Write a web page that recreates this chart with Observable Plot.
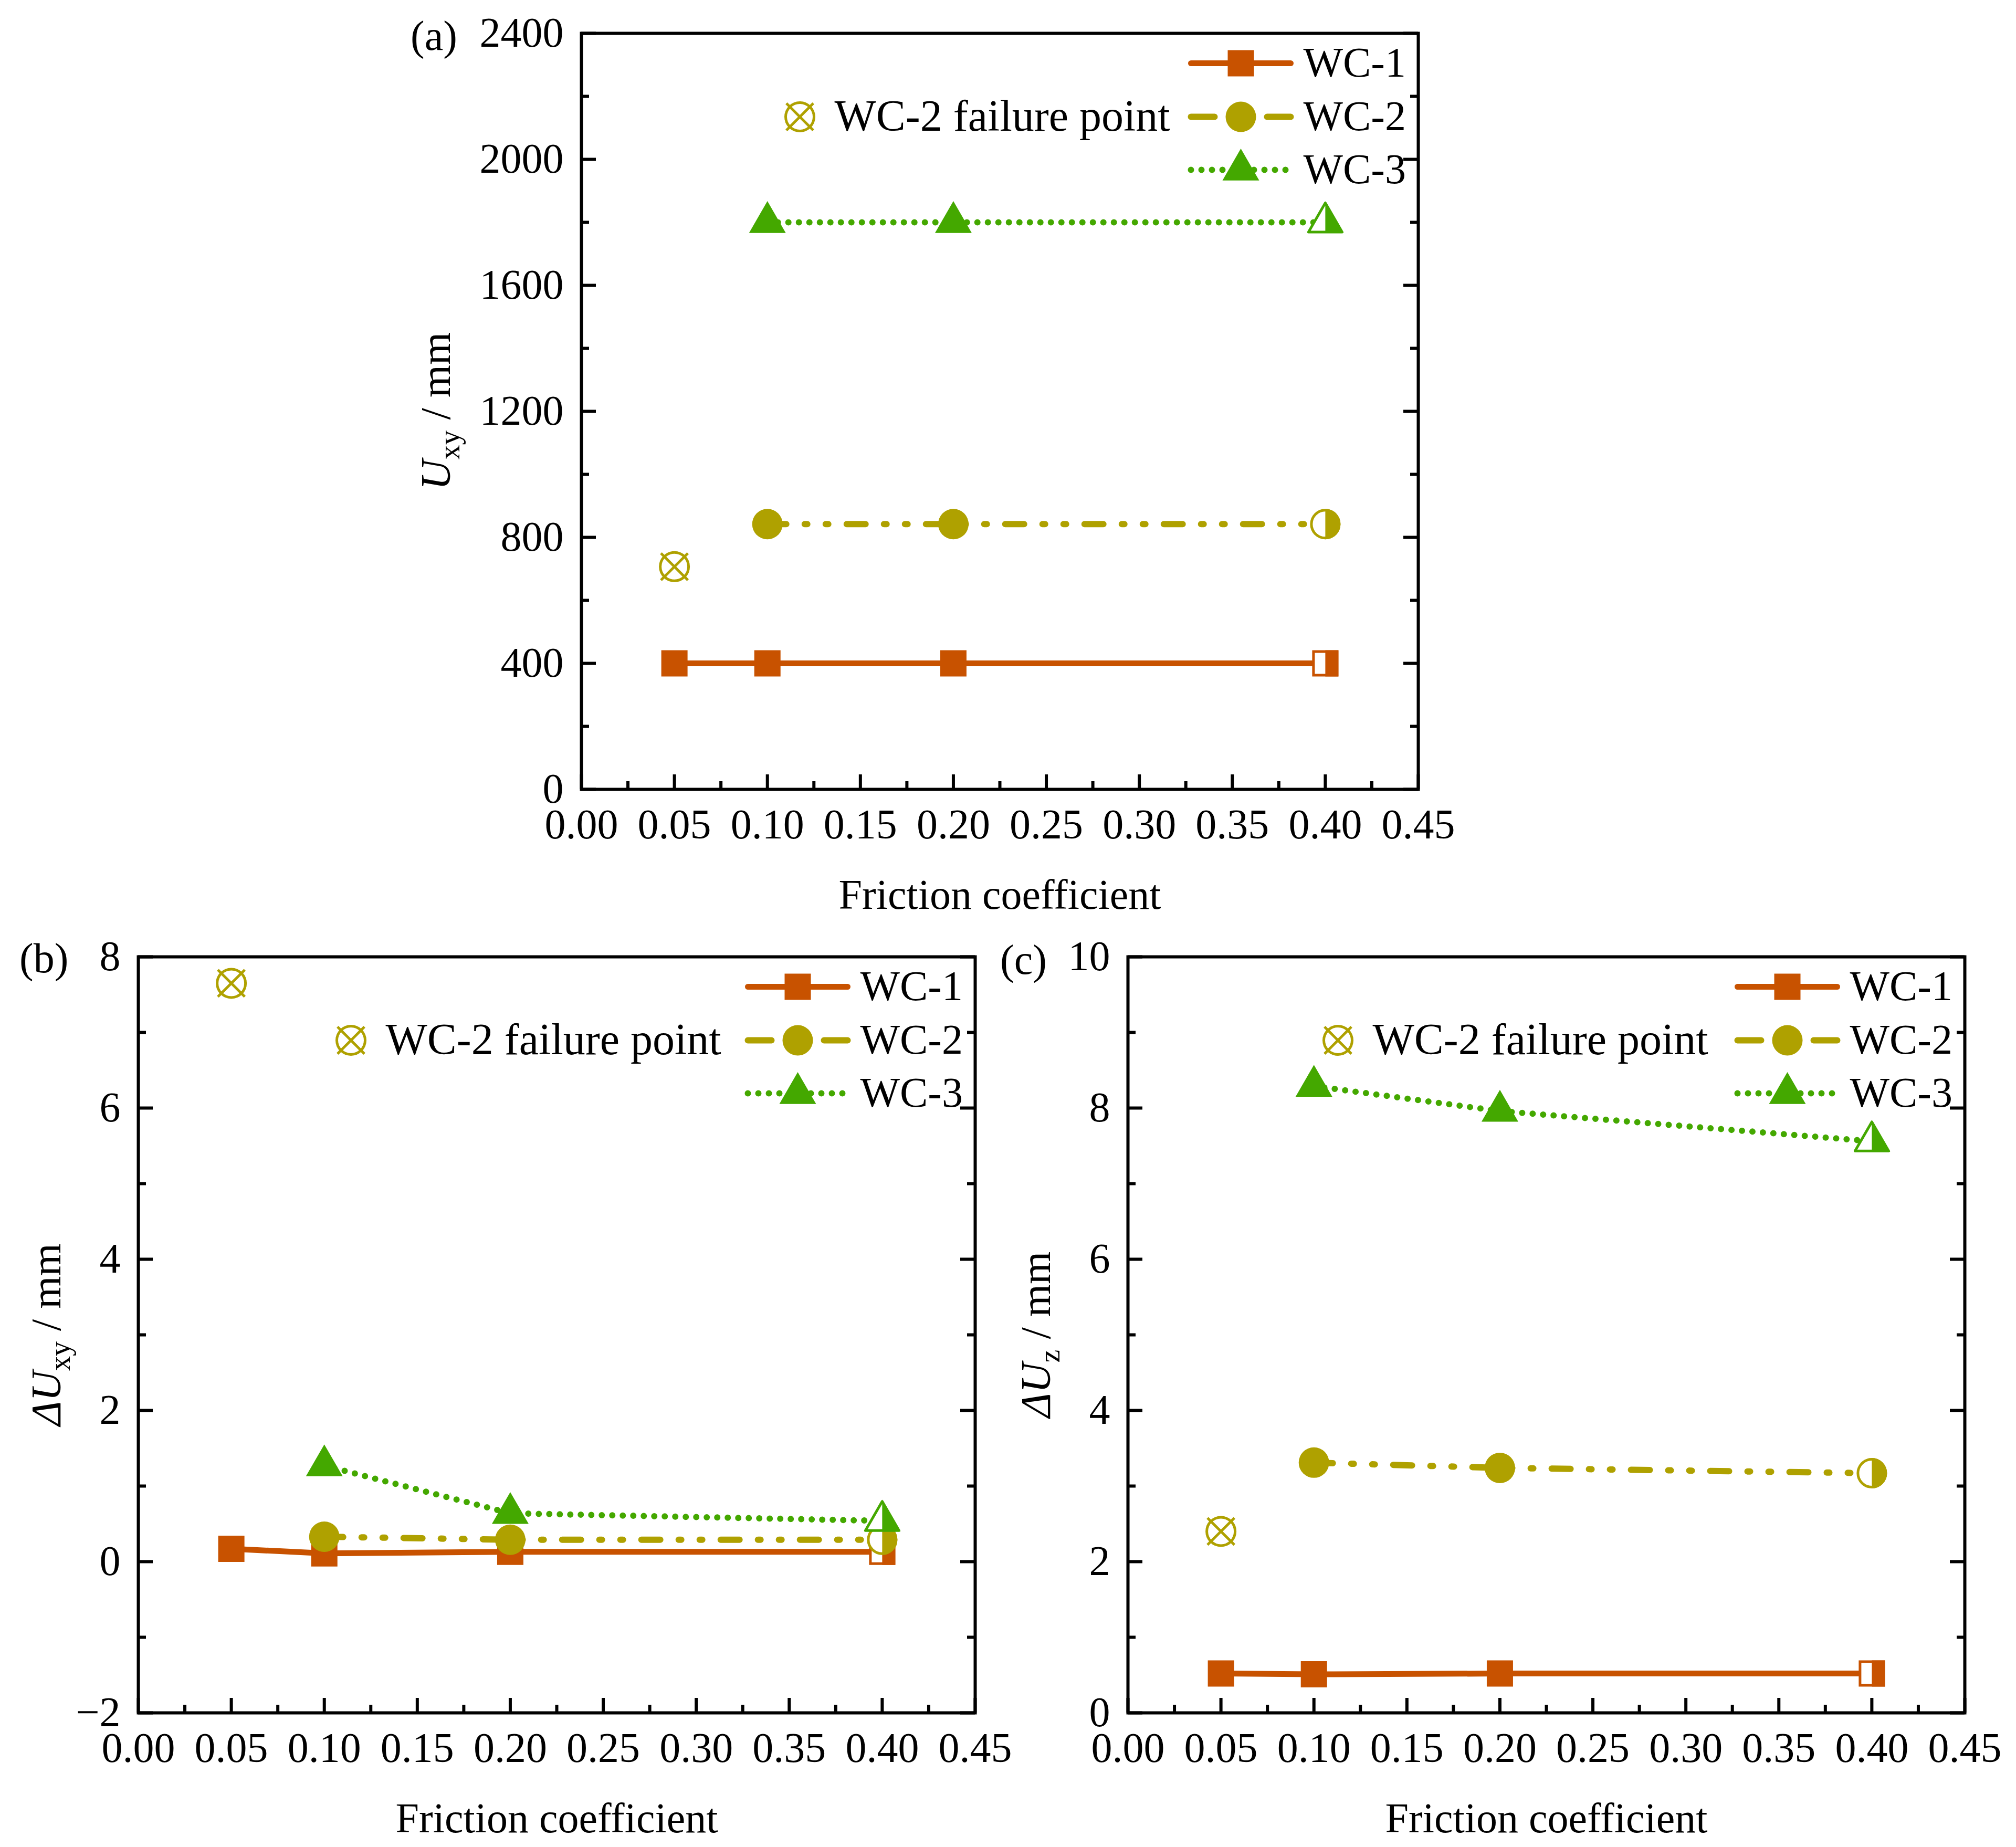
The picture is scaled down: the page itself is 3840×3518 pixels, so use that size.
<!DOCTYPE html>
<html><head><meta charset="utf-8">
<script src="https://cdn.jsdelivr.net/npm/d3@7"></script>
<script src="https://cdn.jsdelivr.net/npm/@observablehq/plot@0.6"></script>
<style>
html,body{margin:0;padding:0;background:#fff;}
#page{position:relative;width:3840px;height:3518px;background:#fff;overflow:hidden;}
#page svg{position:absolute;}
</style></head><body><div id="page"></div>
<script>
// ---------- data ----------
const friction = [0.05, 0.10, 0.20, 0.40];       // WC-1 friction coefficients
const frictionWC23 = [0.10, 0.20, 0.40];         // WC-2 and WC-3
const failureFriction = [0.05];                  // WC-2 failure point
const seriesNames = ["WC-1", "WC-2", "WC-3"];
const failureLabel = "WC-2 failure point";
const xTickValues = [0, 0.05, 0.10, 0.15, 0.20, 0.25, 0.30, 0.35, 0.40, 0.45];
const xMinorValues = [0.025, 0.075, 0.125, 0.175, 0.225, 0.275, 0.325, 0.375, 0.425];
const xTitle = "Friction coefficient";

// (a) Uxy / mm
const uxyWC1 = [400, 400, 400, 400];
const uxyWC2 = [842, 842, 842];
const uxyWC3 = [1800, 1800, 1800];
const uxyFailure = [707];
const uxyTicks = [0, 400, 800, 1200, 1600, 2000, 2400];
const uxyMinor = [200, 600, 1000, 1400, 1800, 2200];

// (b) ΔUxy / mm
const dUxyWC1 = [0.17, 0.11, 0.13, 0.13];
const dUxyWC2 = [0.33, 0.29, 0.29];
const dUxyWC3 = [1.27, 0.64, 0.54];
const dUxyFailure = [7.65];
const dUxyTicks = [-2, 0, 2, 4, 6, 8];
const dUxyMinor = [-1, 1, 3, 5, 7];

// (c) ΔUz / mm
const dUzWC1 = [0.52, 0.51, 0.52, 0.52];
const dUzWC2 = [3.31, 3.24, 3.17];
const dUzWC3 = [8.29, 7.96, 7.56];
const dUzFailure = [2.40];
const dUzTicks = [0, 2, 4, 6, 8, 10];
const dUzMinor = [1, 3, 5, 7, 9];

// ---------- style ----------
const C1 = "#C85200", C2 = "#AFA100", C3 = "#44A800";
const FONT = "'Liberation Serif', 'Times New Roman', serif";
const FS = 80;

// custom symbols (size = r²π)
const rOf = s => Math.sqrt(s / Math.PI);
const sqSym = {draw(c, s) { const r = rOf(s); c.rect(-r, -r, 2 * r, 2 * r); }};
const sqRightSym = {draw(c, s) { const r = rOf(s); c.rect(0, -r, r, 2 * r); }};
const circSym = {draw(c, s) { const r = rOf(s); c.moveTo(r, 0); c.arc(0, 0, r, 0, 2 * Math.PI); c.closePath(); }};
const circRightSym = {draw(c, s) { const r = rOf(s); c.moveTo(0, -r); c.arc(0, 0, r, -Math.PI / 2, Math.PI / 2); c.closePath(); }};
const triSym = {draw(c, s) { const r = rOf(s), h = r * Math.sqrt(3); c.moveTo(0, -2 * h / 3); c.lineTo(r, h / 3); c.lineTo(-r, h / 3); c.closePath(); }};
const triRightSym = {draw(c, s) { const r = rOf(s), h = r * Math.sqrt(3); c.moveTo(0, -2 * h / 3); c.lineTo(r, h / 3); c.lineTo(0, h / 3); c.closePath(); }};
const failSym = {draw(c, s) { const r = rOf(s); c.moveTo(r, 0); c.arc(0, 0, r, 0, 2 * Math.PI); const k = r * 0.95; c.moveTo(-k, -k); c.lineTo(k, k); c.moveTo(k, -k); c.lineTo(-k, k); }};
const hlineSym = {draw(c, s) { const r = rOf(s); c.moveTo(-r, 0); c.lineTo(r, 0); }};

const page = document.getElementById("page");

function buildPanel(cfg) {
  const {left, top, width, height, mL, mT, mR, mB} = cfg;
  const plotW = width - mL - mR, plotH = height - mT - mB;
  const wc1 = friction.map((x, i) => ({x, y: cfg.wc1[i]}));
  const wc2 = frictionWC23.map((x, i) => ({x, y: cfg.wc2[i]}));
  const wc3 = frictionWC23.map((x, i) => ({x, y: cfg.wc3[i]}));
  const fail = failureFriction.map((x, i) => ({x, y: cfg.fail[i]}));
  const ax = {stroke: "black", strokeWidth: 6};
  const xy = {x: "x", y: "y"};
  const rows = [57, 159, 260];
  const leg = (dy, o) => ({frameAnchor: "top-right", dy, ...o});

  const svg = Plot.plot({
    width, height,
    marginLeft: mL, marginTop: mT, marginRight: mR, marginBottom: mB,
    style: {fontFamily: FONT, fontSize: FS + "px", background: "transparent", overflow: "visible", color: "black"},
    x: {domain: [0, 0.45]},
    y: {domain: cfg.yDomain},
    marks: [
      Plot.tickX(xTickValues, {x: d => d, ...ax, insetTop: plotH - 28}),
      Plot.tickX(xMinorValues, {x: d => d, ...ax, insetTop: plotH - 15}),
      Plot.tickY(cfg.yTicks, {y: d => d, ...ax, insetRight: plotW - 28}),
      Plot.tickY(cfg.yTicks, {y: d => d, ...ax, insetLeft: plotW - 28}),
      Plot.tickY(cfg.yMinor, {y: d => d, ...ax, insetRight: plotW - 15}),
      Plot.tickY(cfg.yMinor, {y: d => d, ...ax, insetLeft: plotW - 15}),
      Plot.frame({stroke: "black", strokeWidth: 6}),
      Plot.axisX(xTickValues, {tickSize: 0, tickPadding: 37, tickFormat: d3.format(".2f"), fontSize: FS, label: null}),
      Plot.axisY(cfg.yTicks, {tickSize: 0, tickPadding: 34, tickFormat: d3.format("d"), fontSize: FS, label: null}),
      Plot.text([xTitle], {text: d => d, frameAnchor: "bottom", dy: 202, fontSize: FS, lineAnchor: "middle", textAnchor: "middle"}),

      // lines
      Plot.line(wc1, {...xy, stroke: C1, strokeWidth: 11}),
      Plot.line(wc2, {...xy, stroke: C2, strokeWidth: 12, strokeDasharray: "36,35,5,35,5,35", strokeLinecap: "round"}),
      Plot.line(wc3, {...xy, stroke: C3, strokeWidth: 12, strokeDasharray: "0,20", strokeLinecap: "round"}),

      // markers
      Plot.dot(fail, {...xy, r: 27, symbol: failSym, stroke: C2, strokeWidth: 5, fill: "none"}),
      Plot.dot(wc1.slice(0, -1), {...xy, r: 25, symbol: sqSym, fill: C1}),
      Plot.dot(wc1.slice(-1), {...xy, r: 22.5, symbol: sqSym, fill: "white", stroke: C1, strokeWidth: 5}),
      Plot.dot(wc1.slice(-1), {...xy, r: 25, symbol: sqRightSym, fill: C1}),
      Plot.dot(wc2.slice(0, -1), {...xy, r: 29, symbol: circSym, fill: C2}),
      Plot.dot(wc2.slice(-1), {...xy, r: 26.5, symbol: circSym, fill: "white", stroke: C2, strokeWidth: 5}),
      Plot.dot(wc2.slice(-1), {...xy, r: 29, symbol: circRightSym, fill: C2}),
      Plot.dot(wc3.slice(0, -1), {...xy, r: 35, symbol: triSym, fill: C3}),
      Plot.dot(wc3.slice(-1), {...xy, r: 32, symbol: triSym, fill: "white", stroke: C3, strokeWidth: 5, strokeLinejoin: "round"}),
      Plot.dot(wc3.slice(-1), {...xy, r: 35, symbol: triRightSym, fill: C3}),

      // legend
      Plot.dot([seriesNames[0]], leg(rows[0], {dx: -338, r: 95, symbol: hlineSym, stroke: C1, strokeWidth: 11, fill: "none", strokeLinecap: "round"})),
      Plot.dot([seriesNames[1]], leg(rows[1], {dx: -338, r: 95, symbol: hlineSym, stroke: C2, strokeWidth: 12, fill: "none", strokeDasharray: "45,100", strokeLinecap: "round"})),
      Plot.dot([seriesNames[2]], leg(rows[2], {dx: -338, r: 95, symbol: hlineSym, stroke: C3, strokeWidth: 12, fill: "none", strokeDasharray: "0,20", strokeLinecap: "round"})),
      Plot.dot([seriesNames[0]], leg(rows[0], {dx: -338, r: 25, symbol: sqSym, fill: C1})),
      Plot.dot([seriesNames[1]], leg(rows[1], {dx: -338, r: 29, symbol: circSym, fill: C2})),
      Plot.dot([seriesNames[2]], leg(rows[2], {dx: -338, r: 35, symbol: triSym, fill: C3})),
      Plot.text(seriesNames.slice(0, 1), leg(rows[0], {text: d => d, dx: -219, textAnchor: "start", lineAnchor: "middle", fontSize: FS})),
      Plot.text(seriesNames.slice(1, 2), leg(rows[1], {text: d => d, dx: -219, textAnchor: "start", lineAnchor: "middle", fontSize: FS})),
      Plot.text(seriesNames.slice(2, 3), leg(rows[2], {text: d => d, dx: -219, textAnchor: "start", lineAnchor: "middle", fontSize: FS})),
      Plot.dot([failureLabel], leg(rows[1], {dx: cfg.failDx, r: 27, symbol: failSym, stroke: C2, strokeWidth: 5, fill: "none"})),
      Plot.text([failureLabel], leg(rows[1], {text: d => d, dx: cfg.failDx + 66, textAnchor: "start", lineAnchor: "middle", fontSize: 84}))
    ]
  });
  svg.style.left = left + "px";
  svg.style.top = top + "px";
  const s = d3.select(svg);
  // y-axis title with italic symbol and subscript
  const t = s.append("text")
    .attr("transform", `translate(${mL + cfg.yTitleDx},${mT + plotH / 2}) rotate(-90)`)
    .attr("text-anchor", "middle")
    .attr("font-family", FONT).attr("font-size", FS).attr("fill", "black");
  t.append("tspan").attr("font-style", "italic").text(cfg.yTitle[0]);
  t.append("tspan").attr("font-size", 56).attr("dy", 18).text(cfg.yTitle[1]);
  t.append("tspan").attr("dy", -18).text(cfg.yTitle[2]);
  // panel tag
  s.append("text").attr("x", cfg.tag[1]).attr("y", cfg.tag[2])
    .attr("text-anchor", "start")
    .attr("font-family", FONT).attr("font-size", FS).attr("fill", "black").text(cfg.tag[0]);
  page.appendChild(svg);
}

buildPanel({left: 700, top: 0, width: 2100, height: 1760, mL: 407, mT: 63, mR: 99, mB: 257,
  yDomain: [0, 2400], yTicks: uxyTicks, yMinor: uxyMinor,
  wc1: uxyWC1, wc2: uxyWC2, wc3: uxyWC3, fail: uxyFailure,
  yTitle: ["U", "xy", " / mm"], yTitleDx: -250, tag: ["(a)", 82, 95], failDx: -1178});

buildPanel({left: 0, top: 1760, width: 1950, height: 1758, mL: 263, mT: 62, mR: 93, mB: 256,
  yDomain: [-2, 8], yTicks: dUxyTicks, yMinor: dUxyMinor,
  wc1: dUxyWC1, wc2: dUxyWC2, wc3: dUxyWC3, fail: dUxyFailure,
  yTitle: ["ΔU", "xy", " / mm"], yTitleDx: -148, tag: ["(b)", 37, 92], failDx: -1189});

buildPanel({left: 1900, top: 1760, width: 1940, height: 1758, mL: 248, mT: 62, mR: 98, mB: 256,
  yDomain: [0, 10], yTicks: dUzTicks, yMinor: dUzMinor,
  wc1: dUzWC1, wc2: dUzWC2, wc3: dUzWC3, fail: dUzFailure,
  yTitle: ["ΔU", "z", " / mm"], yTitleDx: -148, tag: ["(c)", 5, 95], failDx: -1194});
</script>
</body></html>
